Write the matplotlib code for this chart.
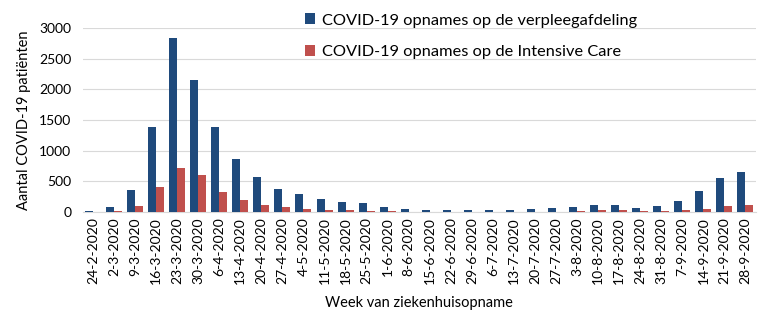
import numpy as np
from matplotlib import pyplot as plt

plt.rcParams['font.family'] = ['Lato', 'DejaVu Sans']

weken = ['24-2-2020', '2-3-2020', '9-3-2020', '16-3-2020', '23-3-2020', '30-3-2020',
         '6-4-2020', '13-4-2020', '20-4-2020', '27-4-2020', '4-5-2020', '11-5-2020',
         '18-5-2020', '25-5-2020', '1-6-2020', '8-6-2020', '15-6-2020', '22-6-2020',
         '29-6-2020', '6-7-2020', '13-7-2020', '20-7-2020', '27-7-2020', '3-8-2020',
         '10-8-2020', '17-8-2020', '24-8-2020', '31-8-2020', '7-9-2020', '14-9-2020',
         '21-9-2020', '28-9-2020']
verpleeg = [10, 80, 360, 1380, 2840, 2150, 1390, 860, 570, 380, 300, 210,
            160, 150, 80, 55, 35, 30, 25, 25, 30, 45, 60, 85,
            120, 110, 70, 100, 180, 340, 550, 650]
ic = [5, 20, 100, 400, 720, 600, 330, 190, 120, 80, 45, 35,
      30, 15, 10, 8, 5, 5, 4, 4, 5, 6, 8, 10,
      25, 30, 15, 15, 35, 50, 100, 110]

blauw = '#1f4a7c'
rood = '#c0504d'

fig = plt.figure(figsize=(7.7, 3.27), dpi=100)
ax = fig.add_axes([82.5/770, 1-212/327, (756-82.5)/770, (212-28)/327])

x = np.arange(len(weken))
w = 0.38
ax.bar(x - w/2, verpleeg, width=w, color=blauw, label='COVID-19 opnames op de verpleegafdeling', zorder=3)
ax.bar(x + w/2, ic, width=w, color=rood, label='COVID-19 opnames op de Intensive Care', zorder=3)

ax.set_xlim(-0.5, len(weken) - 0.5)
ax.set_ylim(0, 3000)
ax.set_yticks(np.arange(0, 3001, 500))
ax.set_xticks(x)
ax.set_xticklabels(weken, rotation=90, fontsize=10)
ax.tick_params(axis='y', labelsize=10, length=0, pad=8)
ax.tick_params(axis='x', length=0, pad=4)
ax.grid(axis='y', color='#d9d9d9', linewidth=0.8, zorder=0)
for s in ['top', 'right', 'left']:
    ax.spines[s].set_visible(False)
ax.spines['bottom'].set_color('#d9d9d9')

ax.set_ylabel('Aantal COVID-19 patiënten', fontsize=10.5, labelpad=6)
ax.set_xlabel('Week van ziekenhuisopname', fontsize=10.5, labelpad=8)

leg = ax.legend(loc='upper left', bbox_to_anchor=(0.308, 1.16), frameon=False,
                fontsize=11.8, labelspacing=1.05, handlelength=0.65, handleheight=0.65,
                handletextpad=0.4)

fig.savefig('out.png', dpi=100)
